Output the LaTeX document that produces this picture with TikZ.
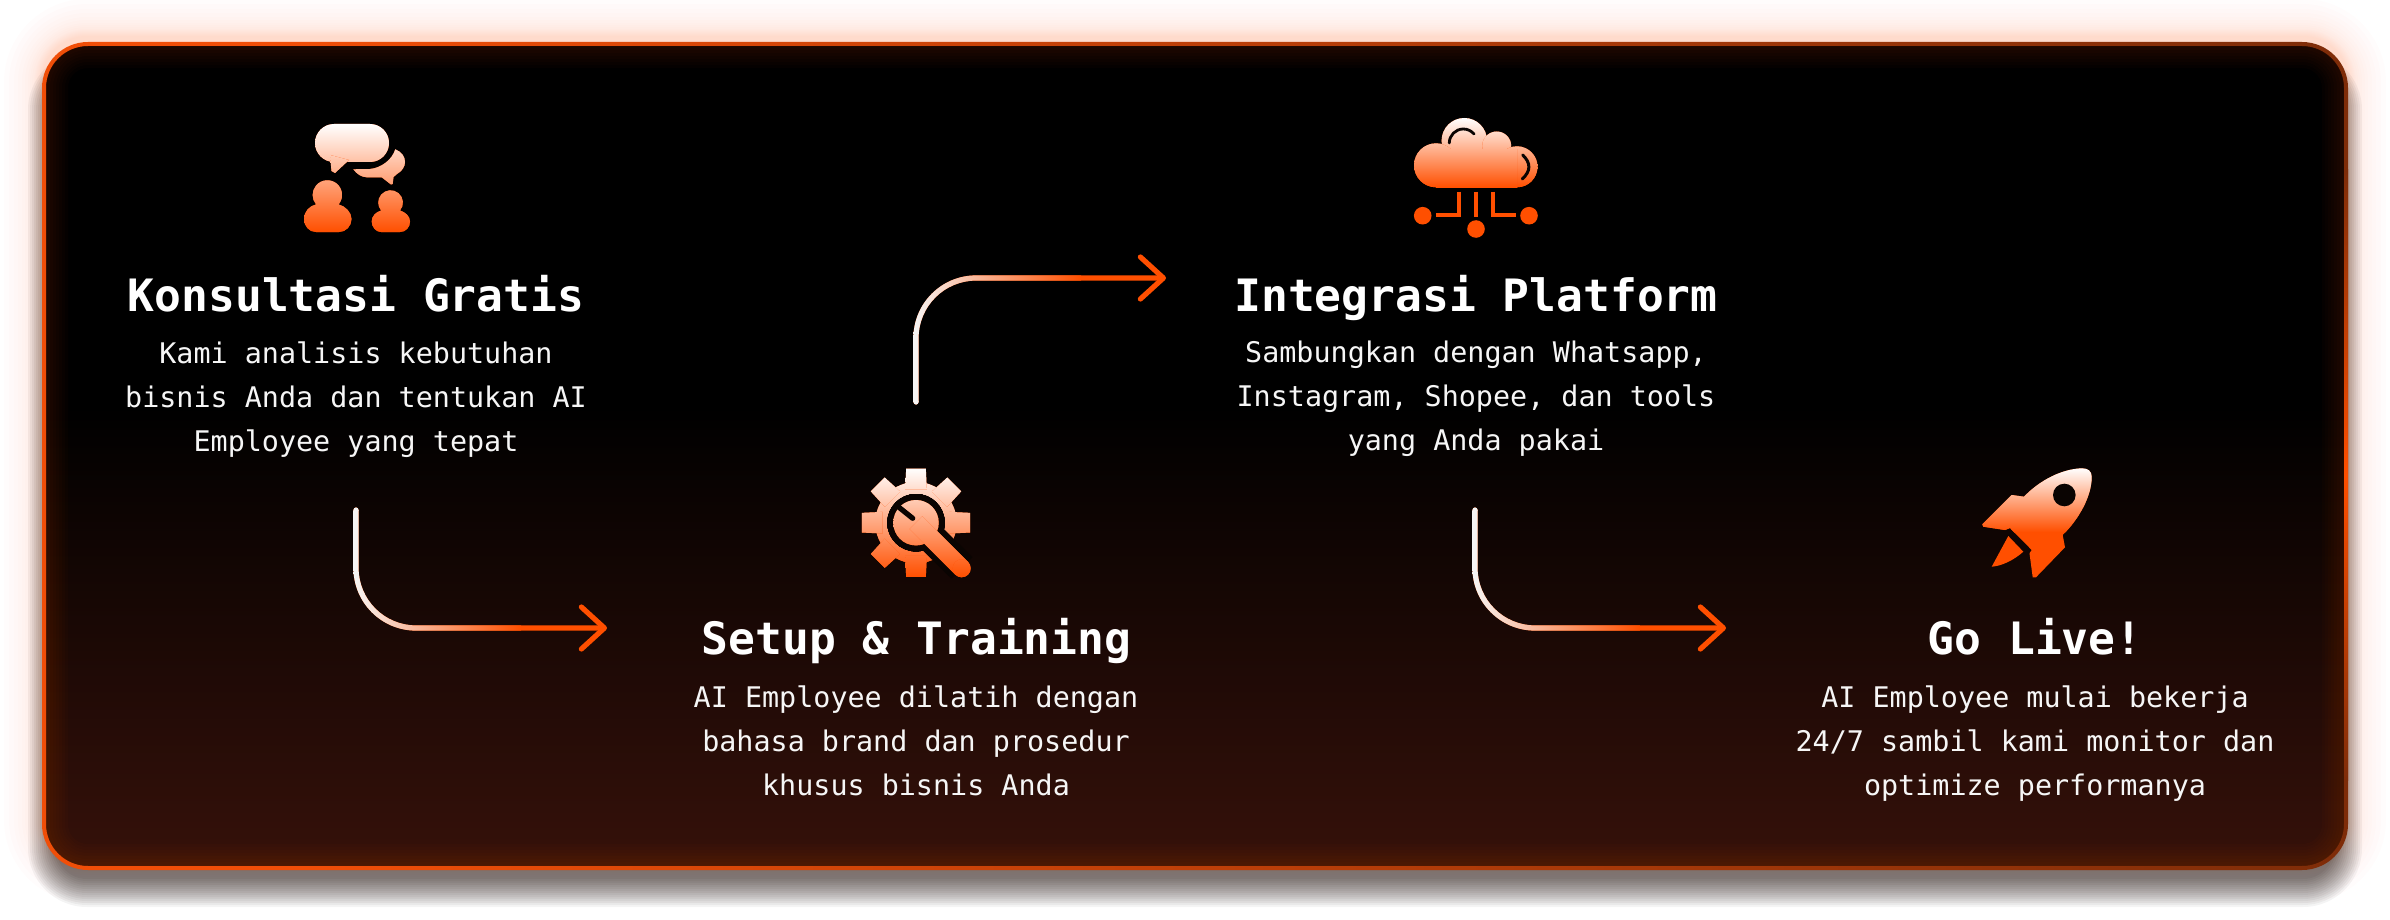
\documentclass[tikz,border=0pt]{standalone}
\usepackage{fontspec}
\newfontfamily\stepfont{DejaVu Sans Mono}
\usetikzlibrary{arrows.meta, calc}

\definecolor{ember}{HTML}{FF4F00}
\definecolor{edgebright}{HTML}{F04E08}
\definecolor{edgemid}{HTML}{A83F08}
\definecolor{edgedim}{HTML}{7E2C08}
\definecolor{panelbrown}{HTML}{36110A}
\definecolor{softwhite}{HTML}{F6F6F6}
\definecolor{cutout}{HTML}{0A0402}

\pgfdeclareverticalshading{panelshade}{100bp}{color(0bp)=(panelbrown); color(25bp)=(panelbrown); color(53bp)=(black); color(100bp)=(black)}
\pgfdeclareverticalshading{edgespot}{100bp}{color(0bp)=(edgedim); color(25bp)=(edgedim); color(50bp)=(ember); color(75bp)=(edgedim); color(100bp)=(edgedim)}

\tikzset{
  steptitle/.style={anchor=base, inner sep=0pt, text=white, font=\stepfont\bfseries\fontsize{22.3pt}{26pt}\selectfont},
  stepdesc/.style={anchor=north, inner sep=0pt, align=center, text=softwhite, font=\stepfont\fontsize{14.2pt}{22pt}\selectfont},
  flowline/.style={draw=ember, line width=2.6pt, line cap=round, rounded corners=30pt, -{Straight Barb[round, length=11.5pt, width=21pt]}},
}

\newcommand{\iconbox}{(0,0) rectangle (1,1)}
\newcommand{\iconpart}[1]{%
  \begin{scope}
    \clip #1;
    \fill[ember] (0,0) rectangle (2390,920);
    \shade[top color=white, bottom color=ember] \iconbox;
  \end{scope}}
% white to orange over the first part of a connector: x, start y, end y, angle of the bend
\newcommand{\flowtint}[4]{%
  \fill[softwhite] (#1,#2) circle (2.6);
  \begin{scope}
    \clip (#1-2.6,#2) -- (#1-2.6,{#3+60*sin(#4+180)}) arc (180:{#4}:62.6) -- (#1+165,{#3+2.6*sin(#4)}) -- (#1+165,{#3-2.6*sin(#4)}) -- (#1+60,{#3-2.6*sin(#4)}) arc ({#4}:180:57.4) -- (#1+2.6,#2) -- cycle;
    \shade[left color=softwhite, right color=ember] (#1-3,0) rectangle (#1+165,920);
  \end{scope}}

\begin{document}
\begin{tikzpicture}[x=0.5pt, y=-0.5pt]
    \useasboundingbox (0,0) rectangle (2390,920);
    \fill[white] (0,0) rectangle (2390,920);

    % glow and drop shadow
    \foreach \e [evaluate=\e as \rad using 22.5+\e/2] in {1,2,3,4,5,6,7,8,10,12,14,17,20,24,28,33,38}
        \fill[ember, opacity=.011, rounded corners=\rad pt] (42-\e,37-\e) rectangle (2348+\e,865+\e);
    \foreach \e [evaluate=\e as \rad using 22.5+\e/2] in {-14,-12,...,14}
        \fill[black, opacity=.045, rounded corners=\rad pt] (42-\e,65-\e) rectangle (2348+\e,893+\e);

    % panel
    \shade[shading=panelshade, rounded corners=22pt] (44,44) rectangle (2346,868);
    \begin{scope}
        \clip[rounded corners=22pt] (44,44) rectangle (2346,868);
        \foreach \w in {3,6,...,24}
            \draw[ember, opacity=.02, line width=\w pt, rounded corners=22pt] (44,44) rectangle (2346,868);
    \end{scope}
    \begin{scope}[even odd rule]
        \clip[rounded corners=23pt] (42,42) rectangle (2348,870) [rounded corners=21pt] (46,46) rectangle (2344,866);
        \shade[left color=edgebright, middle color=edgemid, right color=edgedim] (300,40) rectangle (2350,872);
        \fill[edgebright] (40,40) rectangle (300,872);
        \shade[shading=edgespot] (2340,170) rectangle (2350,780);
    \end{scope}

    % chat icon
    \renewcommand{\iconbox}{(300,124) rectangle (415,232)}
    \iconpart{[rounded corners=9.5pt] (315,124) rectangle (389,162)}
    \iconpart{(330,155) -- (331.5,171) -- (335,173) -- (349,160) -- cycle}
    \iconpart{(353.3,169.3) -- (370,169) .. controls (381,168) and (392,160) .. (395.3,149.3) .. controls (402,152) and (405,157) .. (405,162) .. controls (405,167) and (402,171) .. (397,174) -- (393.5,177) -- (392.7,184) -- (391,184.5) -- (381.7,177.3) -- (366.7,177.3) .. controls (361,177) and (357,174) .. (353.3,169.3) -- cycle}
    \iconpart{(316,232) -- (339,232) .. controls (346,232) and (351.5,226) .. (351.5,219) .. controls (351.5,212) and (345,206) .. (338.6,204.4) arc (40:-220:14.7) .. controls (309,206) and (304,212) .. (304,219) .. controls (304,226) and (309,232) .. (316,232) -- cycle}
    \iconpart{(381,232) -- (400,232) .. controls (406,232) and (410,227) .. (410,221.5) .. controls (410,216) and (405,212) .. (400,210.5) arc (40:-220:12.3) .. controls (376,212) and (371.7,216) .. (371.7,221.5) .. controls (371.7,227) and (376,232) .. (381,232) -- cycle}

    % gear icon
    \coordinate (gearc) at (916,522.7);
    \renewcommand{\iconbox}{(860,468) rectangle (972,577)}
    \iconpart{(gearc) circle (40.7)}
    \foreach \a in {0,45,...,315}
        \iconpart{($(gearc)+(\a-10.3:55)$) -- ($(gearc)+(\a+10.3:55)$) -- ($(gearc)+(\a+18:35)$) -- ($(gearc)+(\a-18:35)$) -- cycle}
    \fill[cutout] (gearc) circle (28.7);
    \draw[cutout, line width=15pt] (gearc) -- (962,568);
    \iconpart{(gearc) circle (22.7)}
    \iconpart{(922.4,516.3) -- (968.1,561.9) -- (955.3,574.7) -- (909.6,529.1) -- cycle}
    \iconpart{(961.7,568.3) circle (9)}
    \draw[cutout, line width=2.6pt, line cap=round] (897.3,506) -- (912.7,518.3);

    % cloud icon
    \renewcommand{\iconbox}{(1414,118) rectangle (1538,187.3)}
    \iconpart{(1464.3,140.7) circle (22.7)}
    \iconpart{(1496.7,146) circle (14.5)}
    \iconpart{(1436,165.3) circle (22)}
    \iconpart{(1517,166.8) circle (20.5)}
    \iconpart{(1436,150) rectangle (1517,187.3)}
    \draw[cutout, line width=1.4pt, line cap=round] (1449.3,143) arc (180:320:14);
    \draw[cutout, line width=1.5pt, line cap=round] (1522.7,155) .. controls (1531,163) and (1531,171) .. (1522.3,179);
    \fill[ember] (1422.7,215.7) circle (8.8);
    \fill[ember] (1529,215.7) circle (8.8);
    \fill[ember] (1476,229) circle (8.8);
    \draw[ember, line width=2pt] (1476,191.7) -- (1476,216.7);
    \draw[ember, line width=2pt] (1458.7,191.7) -- (1458.7,215) -- (1436,215);
    \draw[ember, line width=2pt] (1493.3,191.7) -- (1493.3,215) -- (1516,215);

    % rocket icon
    \renewcommand{\iconbox}{(1982,468) rectangle (2092,532)}
    \iconpart{(2024,496.7) .. controls (2040,480) and (2062,469) .. (2081.7,468.3) .. controls (2088,468.3) and (2091.7,471) .. (2091.7,477) .. controls (2091.7,497) and (2078,520) .. (2062.7,535) -- (2065,547.3) -- (2036,577.3) -- (2032.7,577.3) -- (2029.5,553.3) -- (2031.7,550) -- (2010,528) -- (2005,530) -- (1983.3,526.7) -- (1982.3,524.3) -- (2011.7,495) -- cycle}
    \iconpart{(2008.3,536) -- (2023.3,551.7) .. controls (2014,560) and (2002,566) .. (1991.7,566.7) -- cycle}
    \fill[cutout] (2064.3,495) circle (11.3);

    % texts
    \node[steptitle] (title1) at (356,311) {Konsultasi Gratis};
    \node[stepdesc] (desc1) at (356,341) {Kami analisis kebutuhan\\bisnis Anda dan tentukan AI\\Employee yang tepat};
    \node[steptitle] (title2) at (916.5,654) {Setup \& Training};
    \node[stepdesc] (desc2) at (916,685) {AI Employee dilatih dengan\\bahasa brand dan prosedur\\khusus bisnis Anda};
    \node[steptitle] (title3) at (1476,311) {Integrasi Platform};
    \node[stepdesc] (desc3) at (1476,341) {Sambungkan dengan Whatsapp,\\Instagram, Shopee, dan tools\\yang Anda pakai};
    \node[steptitle] (title4) at (2035,654) {Go Live!};
    \node[stepdesc] (desc4) at (2035,685) {AI Employee mulai bekerja\\24/7 sambil kami monitor dan\\optimize performanya};

    % connectors
    \coordinate (flow1s) at (356,510);
    \coordinate (flow1e) at (607,628);
    \coordinate (flow2s) at (916,402);
    \coordinate (flow2e) at (1166,278);
    \coordinate (flow3s) at (1475,510);
    \coordinate (flow3e) at (1726,628);
    \draw[flowline] (flow1s) |- (flow1e);
    \flowtint{356}{510}{628}{90}
    \draw[flowline] (flow2s) |- (flow2e);
    \flowtint{916}{402}{278}{270}
    \draw[flowline] (flow3s) |- (flow3e);
    \flowtint{1475}{510}{628}{90}
\end{tikzpicture}
\end{document}
